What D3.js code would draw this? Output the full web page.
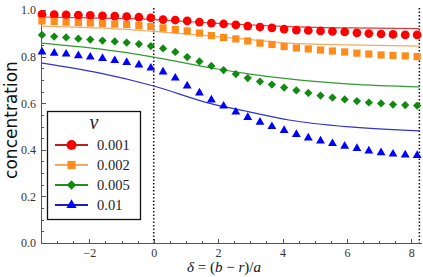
<!DOCTYPE html>
<meta charset="utf-8">
<style>

body {
  margin: 0;
  background: white;
}

.axis path,
.axis line {
  stroke: #555;
  shape-rendering: crispEdges;
}

.axis text {
  font-size: 12px;
  fill: #333;
}

.serif {
  font-family: "Liberation Serif", "Times New Roman", serif;
}

.fit {
  fill: none;
  stroke-width: 1.2px;
}

.guide {
  stroke: #111;
  stroke-width: 1.5px;
  stroke-dasharray: 1.5px 2px;
}

.legend text {
  font-size: 14.5px;
  fill: #222;
}

</style>
<svg></svg>
<script src="https://cdn.jsdelivr.net/npm/d3@7"></script>
<script>

var width = 423;
var height = 277;

// nu values, one series each
var nus = ['0.001', '0.002', '0.005', '0.01'];

// simulation points (markers)
var delta = [-3.47, -3.09, -2.72, -2.34, -1.97, -1.59, -1.21, -0.84, -0.46, -0.09,
  0.29, 0.67, 1.04, 1.42, 1.79, 2.17, 2.55, 2.92, 3.30, 3.67, 4.05, 4.43,
  4.80, 5.18, 5.55, 5.93, 6.31, 6.68, 7.06, 7.43, 7.81, 8.18];

var simRed = [0.981, 0.980, 0.979, 0.978, 0.977, 0.975, 0.974, 0.972, 0.969, 0.966,
  0.959, 0.957, 0.953, 0.948, 0.944, 0.940, 0.936, 0.931, 0.927, 0.923, 0.918,
  0.914, 0.912, 0.910, 0.908, 0.906, 0.902, 0.899, 0.897, 0.895, 0.893, 0.893];
var simOrange = [0.953, 0.951, 0.948, 0.946, 0.944, 0.942, 0.940, 0.938, 0.933, 0.929,
  0.923, 0.916, 0.910, 0.901, 0.890, 0.882, 0.876, 0.867, 0.858, 0.852, 0.843,
  0.837, 0.833, 0.828, 0.824, 0.820, 0.815, 0.811, 0.807, 0.805, 0.803, 0.800];
var simGreen = [0.893, 0.886, 0.882, 0.877, 0.873, 0.869, 0.865, 0.860, 0.854, 0.845,
  0.835, 0.820, 0.798, 0.779, 0.760, 0.742, 0.725, 0.708, 0.693, 0.680, 0.667,
  0.655, 0.644, 0.633, 0.624, 0.616, 0.609, 0.603, 0.599, 0.594, 0.592, 0.590];
var simBlue = [0.820, 0.815, 0.811, 0.804, 0.798, 0.792, 0.783, 0.775, 0.764, 0.751,
  0.734, 0.708, 0.674, 0.644, 0.614, 0.588, 0.562, 0.539, 0.519, 0.500, 0.483,
  0.466, 0.451, 0.438, 0.427, 0.416, 0.406, 0.395, 0.388, 0.382, 0.378, 0.376];

// theory curves (solid lines)
var deltaFit = [-3.5, -1.7, 0, 1.8, 3.0, 4.2, 6.1, 8.25];
var fitRed = [0.970, 0.965, 0.959, 0.944, 0.936, 0.929, 0.923, 0.920];
var fitOrange = [0.931, 0.923, 0.908, 0.888, 0.873, 0.858, 0.850, 0.845];
var fitGreen = [0.858, 0.833, 0.798, 0.751, 0.725, 0.704, 0.682, 0.670];
var fitBlue = [0.773, 0.730, 0.674, 0.597, 0.562, 0.528, 0.498, 0.481];

var xTicks = [-2, 0, 2, 4, 6, 8];
var yTicks = [0, 0.2, 0.4, 0.6, 0.8, 1.0];
var guides = [0, 8.25];

var series = [
  {nu: nus[0], sim: simRed, fit: fitRed, marker: '#ff0000', line: '#e03a3a', key: '#b52222', shape: 'circle'},
  {nu: nus[1], sim: simOrange, fit: fitOrange, marker: '#ff8c1a', line: '#f5a964', key: '#f5a964', shape: 'square'},
  {nu: nus[2], sim: simGreen, fit: fitGreen, marker: '#108a10', line: '#339933', key: '#2a8a2a', shape: 'diamond'},
  {nu: nus[3], sim: simBlue, fit: fitBlue, marker: '#0000ff', line: '#3333cc', key: '#1a1acc', shape: 'triangle'}
];

var x = d3.scaleLinear().domain([-3.5, 8.3]).range([41, 421]);
var y = d3.scaleLinear().domain([0, 1]).range([243, 10]);

var svg = d3.select('svg')
  .attr('width', width)
  .attr('height', height);

function symbolPath(shape, big) {
  var k = big ? 1.3 : 1;
  if (shape === 'circle') return d3.symbol(d3.symbolCircle, 60 * k)();
  if (shape === 'square') return d3.symbol(d3.symbolSquare, 52 * k)();
  if (shape === 'diamond') return d3.symbol(d3.symbolSquare, 34 * k)();
  return d3.symbol(d3.symbolTriangle, 34 * k)();
}

function symbolRotate(shape) {
  return shape === 'diamond' ? ' rotate(45)' : '';
}

// axes with inward ticks
function addAxis(axis, transform) {
  svg.append('g')
    .attr('class', 'axis serif')
    .attr('transform', transform)
    .call(axis)
    .attr('font-family', null)
    .attr('font-size', null);
}

addAxis(d3.axisBottom(x).tickValues(d3.range(-3.5, 8.3, 0.5)).tickSize(-2.5).tickSizeOuter(0).tickFormat(''),
  'translate(0,' + y(0) + ')');
addAxis(d3.axisBottom(x).tickValues(xTicks).tickSize(-4.5).tickSizeOuter(0).tickPadding(5).tickFormat(d3.format('d')),
  'translate(0,' + y(0) + ')');
addAxis(d3.axisLeft(y).tickValues(d3.range(0, 1.001, 0.05)).tickSize(-2.5).tickSizeOuter(0).tickFormat(''),
  'translate(' + x(-3.5) + ',0)');
addAxis(d3.axisLeft(y).tickValues(yTicks).tickSize(-4.5).tickSizeOuter(0).tickPadding(5).tickFormat(d3.format('.1f')),
  'translate(' + x(-3.5) + ',0)');

svg.selectAll('.guide')
  .data(guides)
  .enter().append('line')
  .attr('class', 'guide')
  .attr('x1', function (d) { return x(d); })
  .attr('x2', function (d) { return x(d); })
  .attr('y1', 8)
  .attr('y2', y(0));

var fitLine = d3.line()
  .x(function (d, i) { return x(deltaFit[i]); })
  .y(function (d) { return y(d); })
  .curve(d3.curveMonotoneX);

svg.append('g')
  .selectAll('path')
  .data(series)
  .enter().append('path')
  .attr('class', 'fit')
  .attr('stroke', function (d) { return d.line; })
  .attr('d', function (d) { return fitLine(d.fit); });

series.forEach(function (s) {
  svg.append('g')
    .selectAll('path')
    .data(s.sim)
    .enter().append('path')
    .attr('d', symbolPath(s.shape, false))
    .attr('fill', s.marker)
    .attr('transform', function (d, i) {
      return 'translate(' + x(delta[i]) + ',' + y(d) + ')' + symbolRotate(s.shape);
    });
});

// axis titles
svg.append('text')
  .attr('transform', 'translate(17,120) rotate(-90)')
  .attr('text-anchor', 'middle')
  .style('font-family', '"DejaVu Sans", sans-serif')
  .style('font-size', '17px')
  .attr('fill', '#111')
  .text('concentration');

var xt = svg.append('text')
  .attr('class', 'serif')
  .attr('x', 224)
  .attr('y', 272)
  .attr('text-anchor', 'middle')
  .style('font-size', '15px')
  .attr('fill', '#111');
xt.append('tspan').style('font-style', 'italic').text('δ');
xt.append('tspan').text(' = (');
xt.append('tspan').style('font-style', 'italic').text('b');
xt.append('tspan').text(' − ');
xt.append('tspan').style('font-style', 'italic').text('r');
xt.append('tspan').text(')/');
xt.append('tspan').style('font-style', 'italic').text('a');

// legend
var legend = svg.append('g').attr('class', 'legend serif');

legend.append('rect')
  .attr('x', 47.5)
  .attr('y', 111.5)
  .attr('width', 93)
  .attr('height', 108)
  .attr('fill', 'white')
  .attr('stroke', '#111')
  .attr('stroke-width', 1.3);

legend.append('text')
  .attr('x', 94)
  .attr('y', 129)
  .attr('text-anchor', 'middle')
  .style('font-size', '20px')
  .style('font-style', 'italic')
  .text('ν');

var entry = legend.selectAll('.entry')
  .data(series)
  .enter().append('g')
  .attr('class', 'entry')
  .attr('transform', function (d, i) { return 'translate(0,' + (145 + i * 20) + ')'; });

entry.append('line')
  .attr('x1', 55)
  .attr('x2', 88)
  .attr('stroke', function (d) { return d.key; })
  .attr('stroke-width', 2);

entry.append('path')
  .attr('d', function (d) { return symbolPath(d.shape, true); })
  .attr('fill', function (d) { return d.marker; })
  .attr('transform', function (d) { return 'translate(71.5,0)' + symbolRotate(d.shape); });

entry.append('text')
  .attr('x', 97)
  .attr('dy', '0.35em')
  .text(function (d) { return d.nu; });

</script>
